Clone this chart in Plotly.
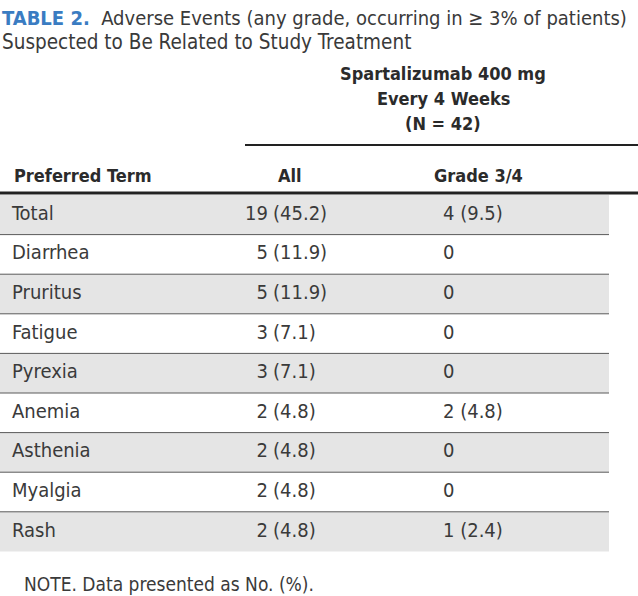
import plotly.graph_objects as go

# ---- data ----
terms = ["Total", "Diarrhea", "Pruritus", "Fatigue", "Pyrexia", "Anemia", "Asthenia", "Myalgia", "Rash"]
all_n = [19, 5, 5, 3, 3, 2, 2, 2, 2]
all_pct = [45.2, 11.9, 11.9, 7.1, 7.1, 4.8, 4.8, 4.8, 4.8]
g34_n = [4, 0, 0, 0, 0, 2, 0, 0, 1]
g34_pct = [9.5, None, None, None, None, 4.8, None, None, 2.4]
col_headers = ["Preferred Term", "All", "Grade 3/4"]
span_header = ["Spartalizumab 400 mg", "Every 4 Weeks", "(N = 42)"]
title_bold = "TABLE 2."
title_rest = "Adverse Events (any grade, occurring in \u2265 3% of patients)"
title_line2 = "Suspected to Be Related to Study Treatment"
note = "NOTE. Data presented as No. (%)."

# ---- style / layout ----
W, H = 638, 596
FONT = "DejaVu Sans Condensed, DejaVu Sans, sans-serif"
TXT = "#3a3a3a"
GRAY = "#e5e5e5"
BLUE = "#3a7cc2"
row_top0 = 195.0
row_h = 39.6
table_right = 609
x_label = 12
x_all_num_right = 268
x_all_pct_left = 273
x_g34_left = 443
FS = 20

fig = go.Figure()
shapes = []
for i, t in enumerate(terms):
    y0 = row_top0 + i * row_h
    y1 = y0 + row_h
    if i % 2 == 0:
        shapes.append(dict(type="rect", xref="x", yref="y", x0=0, x1=table_right, y0=y0, y1=y1,
                           fillcolor=GRAY, line=dict(width=0), layer="below"))
    if i < len(terms) - 1:
        shapes.append(dict(type="line", xref="x", yref="y", x0=0, x1=table_right, y0=y1, y1=y1,
                           line=dict(color="#5a5a5a", width=1)))
# header lines
shapes.append(dict(type="line", xref="x", yref="y", x0=245, x1=W, y0=145, y1=145,
                   line=dict(color="#222222", width=2)))
shapes.append(dict(type="line", xref="x", yref="y", x0=0, x1=W, y0=193, y1=193,
                   line=dict(color="#222222", width=3)))

centers = [row_top0 + (i + 0.5) * row_h for i in range(len(terms))]
tf = dict(family=FONT, size=FS, color=TXT)

fig.add_trace(go.Scatter(x=[x_label] * len(terms), y=centers, text=terms, mode="text",
                         textposition="middle right", textfont=tf, hoverinfo="skip"))
fig.add_trace(go.Scatter(x=[x_all_num_right] * len(terms), y=centers, text=[str(n) for n in all_n],
                         mode="text", textposition="middle left", textfont=tf, hoverinfo="skip"))
fig.add_trace(go.Scatter(x=[x_all_pct_left] * len(terms), y=centers, text=[f"({p})" for p in all_pct],
                         mode="text", textposition="middle right", textfont=tf, hoverinfo="skip"))
g34_text = [f"{n} ({p})" if p is not None else f"{n}" for n, p in zip(g34_n, g34_pct)]
fig.add_trace(go.Scatter(x=[x_g34_left] * len(terms), y=centers, text=g34_text, mode="text",
                         textposition="middle right", textfont=tf, hoverinfo="skip"))

ann = []
# title
ann.append(dict(x=0, y=18, xref="x", yref="y", xanchor="left", yanchor="middle", showarrow=False,
                text=f"<b><span style='color:{BLUE}'>{title_bold}</span></b>  {title_rest}",
                font=dict(family=FONT, size=20, color="#3a3a3a")))
ann.append(dict(x=0, y=42, xref="x", yref="y", xanchor="left", yanchor="middle", showarrow=False,
                text=title_line2, font=dict(family=FONT, size=20.5, color="#3a3a3a")))
# spanning header
for k, s in enumerate(span_header):
    ann.append(dict(x=443, y=73 + k * 25, xref="x", yref="y", xanchor="center", yanchor="middle",
                    showarrow=False, text=f"<b>{s}</b>", font=dict(family=FONT, size=18, color="#2b2b2b")))
# column headers
hx = [(x_label, "left"), (290, "center"), (478, "center")]
for (x, anc), h in zip(hx, col_headers):
    ann.append(dict(x=x, y=175, xref="x", yref="y", xanchor=anc, yanchor="middle", showarrow=False,
                    text=f"<b>{h}</b>", font=dict(family=FONT, size=18, color="#2b2b2b")))
# note
ann.append(dict(x=22, y=584, xref="x", yref="y", xanchor="left", yanchor="middle", showarrow=False,
                text=note, font=dict(family=FONT, size=19, color=TXT)))

fig.update_layout(
    width=W, height=H, margin=dict(l=0, r=0, t=0, b=0),
    paper_bgcolor="white", plot_bgcolor="white", showlegend=False,
    xaxis=dict(range=[0, W], visible=False, fixedrange=True),
    yaxis=dict(range=[H, 0], visible=False, fixedrange=True),
    shapes=shapes, annotations=ann,
)
fig.write_html("out.html", config={"displayModeBar": False},
               post_script="document.body.style.margin='0';document.body.style.overflow='hidden';")
